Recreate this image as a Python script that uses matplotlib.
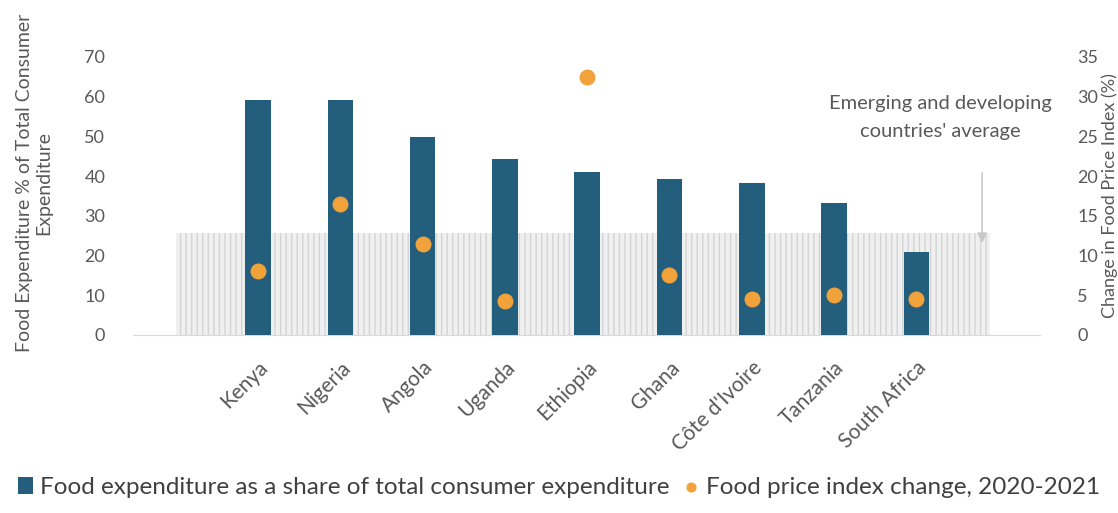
import numpy as np
import matplotlib
matplotlib.use("Agg")
import matplotlib.pyplot as plt

plt.rcParams['font.family'] = ['Lato', 'DejaVu Sans']

# data
countries = ['Kenya', 'Nigeria', 'Angola', 'Uganda', 'Ethiopia', 'Ghana',
             "Côte d'Ivoire", 'Tanzania', 'South Africa']
food_share = [59.2, 59.2, 49.9, 44.3, 41.1, 39.3, 38.3, 33.2, 20.9]
price_change = [8.1, 16.5, 11.5, 4.3, 32.5, 7.6, 4.5, 5.0, 4.5]
em_average = 25.7

bar_col = '#245E7D'
dot_col = '#F2A23A'
grey = '#595959'

x = np.arange(len(countries))

fig = plt.figure(figsize=(11.18, 5.13), dpi=100)
ax = fig.add_axes([0.119, 0.347, 0.811, 0.542])

# shaded band for the average
ax.fill_between([-1.0, 8.9], 0, em_average, facecolor='#F0F0F0',
                edgecolor='#D4D4D4', hatch='|||', linewidth=0, zorder=1)

ax.bar(x, food_share, width=0.31, color=bar_col, zorder=3,
       label='Food expenditure as a share of total consumer expenditure')

ax.set_xlim(-1.52, 9.5)
ax.set_ylim(0, 70)
ax.set_yticks(range(0, 71, 10))
ax.set_xticks(x)
ax.set_xticklabels(countries, rotation=45, ha='right', rotation_mode='anchor')
ax.tick_params(axis='both', length=0, colors=grey, labelsize=13)
ax.tick_params(axis='y', pad=20)
ax.tick_params(axis='x', pad=16, labelsize=15)
for s in ['top', 'right', 'left']:
    ax.spines[s].set_visible(False)
ax.spines['bottom'].set_color('#D9D9D9')
ax.set_ylabel('Food Expenditure % of Total Consumer\nExpenditure',
              color=grey, fontsize=14)
ax.yaxis.set_label_coords(-0.089, 0.547)

ax.annotate('', xy=(8.8, 22.5), xytext=(8.8, 41.5),
            arrowprops=dict(arrowstyle='-|>', color='#C8C8C8', lw=1.2,
                            mutation_scale=14), zorder=4)
ax.text(8.29, 54.7, "Emerging and developing\ncountries' average",
        ha='center', va='center', color=grey, fontsize=14.5,
        linespacing=1.75, zorder=5)

ax2 = ax.twinx()
ax2.scatter(x, price_change, s=110, color=dot_col, zorder=5,
            label='Food price index change, 2020-2021')
ax2.set_ylim(0, 35)
ax2.set_yticks(range(0, 36, 5))
ax2.tick_params(axis='y', length=0, colors=grey, labelsize=13, pad=27)
for s in ax2.spines.values():
    s.set_visible(False)
ax2.set_ylabel('Change in Food Price Index (%)', color=grey, fontsize=13)
ax2.yaxis.set_label_coords(1.068, 0.50)

h1, l1 = ax.get_legend_handles_labels()
h2, l2 = ax2.get_legend_handles_labels()
fig.legend(h1 + h2, l1 + l2, loc='center', bbox_to_anchor=(0.5, 0.05),
           ncol=2, frameon=False, fontsize=17.5, handlelength=0.6,
           handletextpad=0.3, columnspacing=0.6, labelcolor='#404040',
           markerscale=0.6)

fig.savefig('out.png', dpi=100)
